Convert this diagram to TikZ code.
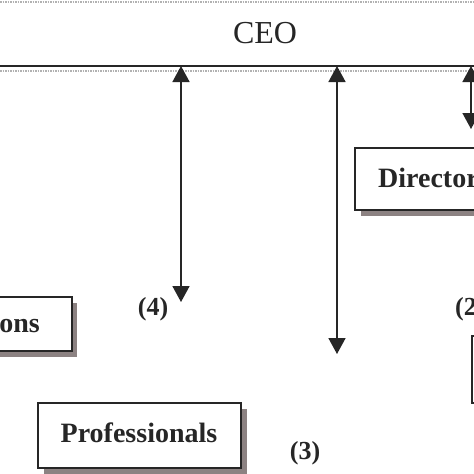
\documentclass[tikz,border=0pt]{standalone}
\usepackage{fontspec}
\setmainfont{Liberation Serif}
\usetikzlibrary{arrows.meta}
\definecolor{ink}{HTML}{262626}
\definecolor{shade}{HTML}{8C8282}
\tikzset{
  orgbox/.style={draw=ink, line width=1.9pt, fill=white, inner sep=0pt},
  boxshadow/.style={fill=shade, draw=none},
  lbl/.style={font=\fontsize{26}{28}\selectfont\bfseries, text=ink, inner sep=0pt},
  boxtext/.style={font=\fontsize{28}{30}\selectfont\bfseries, text=ink, inner sep=0pt},
  link/.style={draw=ink, line width=1.6pt, {Triangle[length=16pt,width=17pt]}-{Triangle[length=16pt,width=17pt]}},
  texture/.style={draw=gray!60, line width=1.5pt, dash pattern=on 1.5pt off 1pt}
}
\begin{document}
\begin{tikzpicture}[x=1pt,y=-1pt]
\useasboundingbox (0,0) rectangle (474,474);
\clip (0,0) rectangle (474,474);
\fill[white] (0,0) rectangle (474,474);
% CEO band
\draw[texture] (0,2) -- (474,2);
\draw[texture] (0,71) -- (474,71);
\draw[ink, line width=2.2pt] (0,66) -- (474,66);
\node[font=\fontsize{32}{34}\selectfont, text=ink, inner sep=0pt] (ceo) at (265,33) {CEO};
% arrow end points
\coordinate (a1t) at (181,66);  \coordinate (a1b) at (181,302);
\coordinate (a2t) at (337,66);  \coordinate (a2b) at (337,354);
\coordinate (a3t) at (471,66);  \coordinate (a3b) at (471,129);
\draw[link] (a1t) -- (a1b);
\draw[link] (a2t) -- (a2b);
\draw[link] (a3t) -- (a3b);
% Directors box
\fill[boxshadow] (361,154) rectangle (620,216);
\draw[orgbox] (355,148) rectangle (610,210);
\node[boxtext, anchor=west] (dir) at (378,178) {Director};
% right lower box
\fill[boxshadow] (478,342) rectangle (620,409);
\draw[orgbox] (472,336) rectangle (610,403);
% ons box
\fill[boxshadow] (-100,303) rectangle (77,357);
\draw[orgbox] (-110,297) rectangle (72,351);
\node[boxtext, anchor=east] (ons) at (40,326) {ons};
% Professionals box
\fill[boxshadow] (44,409) rectangle (247,480);
\draw[orgbox] (38,403) rectangle (241,468);
\node[boxtext] (prof) at (139,433) {Professionals};
% labels
\node[lbl] (l4) at (153,309) {(4)};
\node[lbl, anchor=west] (l2) at (455,309) {(2};
\node[lbl] (l3) at (305,453) {(3)};
\end{tikzpicture}
\end{document}
